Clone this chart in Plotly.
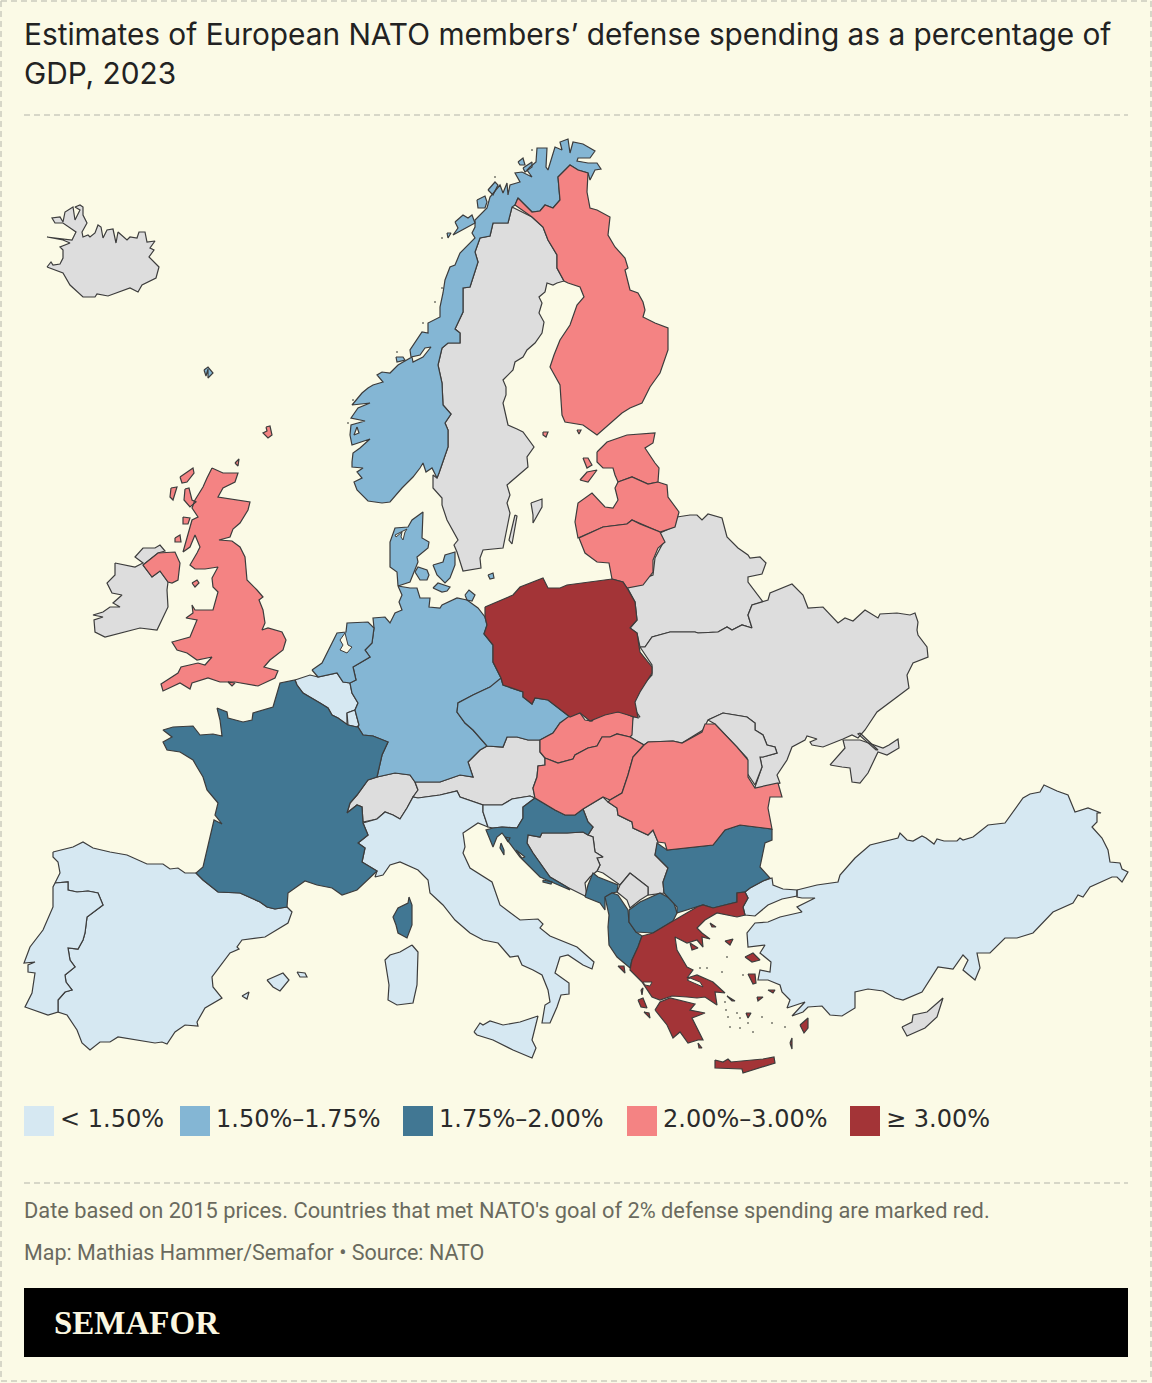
import plotly.graph_objects as go

# Outlines, in picture pixels
NORWAY = [(588,173),(590,180),(595,170),(601,169),(597,163),(588,163),(577,161),(578,158),(590,158),(595,151),(583,144),(573,142),(570,153),(568,139),(560,142),(562,150),(555,147),(548,170),(546,167),(547,148),(537,148),(536,162),(530,167),(527,170),(532,177),(522,172),(515,173),(520,182),(510,185),(508,195),(507,183),(503,193),(500,185),(490,197),(487,208),(475,220),(475,227),(472,233),(475,238),(468,245),(460,253),(455,265),(450,267),(445,280),(443,293),(440,307),(440,317),(428,323),(428,333),(422,332),(410,350),(411,357),(420,355),(425,348),(431,347),(423,357),(413,362),(412,357),(398,365),(390,373),(382,372),(377,375),(383,382),(373,385),(368,388),(362,393),(356,400),(352,405),(370,403),(358,408),(351,418),(365,421),(351,425),(350,435),(352,445),(370,439),(360,448),(353,453),(352,462),(352,467),(363,468),(357,472),(362,478),(354,482),(357,490),(368,501),(382,503),(390,502),(402,488),(413,477),(420,468),(423,463),(426,472),(432,468),(437,478),(439,473),(448,447),(448,430),(445,423),(451,414),(443,405),(442,383),(438,365),(442,348),(448,343),(460,343),(460,333),(455,329),(463,312),(463,288),(470,287),(478,262),(475,252),(480,238),(490,236),(493,223),(508,223),(512,207),(515,205),(518,198),(532,212),(540,211),(545,205),(553,208),(560,200),(558,177),(570,165),(578,170)]
NORWAY_ISLES = [
    [(477,200),(485,196),(487,202),(485,208),(478,208)],
    [(455,222),(463,215),(468,218),(472,215),(475,223),(463,230),(453,235),(458,228)],
    [(488,190),(495,182),(498,185),(493,195)],
    [(518,162),(523,158),(525,165),(520,165)],
    [(523,168),(532,162),(532,167),(525,172)],
    [(447,233),(451,233),(448,238)],
    [(396,357),(403,357),(405,360),(397,362)],
    [(357,427),(359,433),(354,435)],
]
SWEDEN = [(512,207),(532,217),(543,227),(548,240),(557,255),(557,268),(564,281),(557,283),(553,285),(547,283),(545,292),(539,297),(542,303),(539,313),(544,322),(542,333),(535,343),(527,350),(523,357),(515,362),(513,370),(503,380),(506,387),(506,395),(503,403),(508,425),(517,429),(523,432),(534,447),(527,457),(528,467),(507,485),(510,495),(507,503),(510,513),(503,548),(483,550),(480,558),(481,568),(463,571),(457,552),(454,545),(458,540),(447,520),(442,505),(442,498),(433,488),(433,475),(437,478),(439,473),(448,447),(448,430),(445,423),(451,414),(443,405),(442,383),(438,365),(442,348),(448,343),(460,343),(460,333),(455,329),(463,312),(463,288),(470,287),(478,262),(475,252),(480,238),(490,236),(493,223),(508,223)]
SWEDEN_ISLES = [
    [(531,503),(542,499),(542,507),(533,523),(533,515)],
    [(515,515),(517,516),(512,544),(509,540)],
]
FINLAND = [(518,198),(532,212),(540,211),(545,205),(553,208),(560,200),(558,177),(570,165),(578,170),(588,173),(587,192),(590,208),(597,210),(610,217),(608,235),(615,247),(625,258),(628,268),(625,270),(630,290),(638,293),(643,302),(645,310),(643,317),(655,323),(668,328),(668,350),(660,373),(650,387),(642,403),(630,408),(622,413),(597,435),(583,425),(565,422),(562,415),(560,385),(550,367),(554,355),(560,340),(570,325),(577,305),(584,297),(580,287),(568,283),(564,281),(557,268),(557,255),(548,240),(543,227),(532,217),(515,205)]
FINLAND_ISLES = [
    [(543,432),(548,432),(546,437),(543,435)],
    [(577,430),(581,430),(579,434)],
]
ICELAND = [(47,267),(51,262),(53,265),(60,264),(63,258),(63,250),(60,247),(70,243),(63,240),(47,237),(72,240),(76,232),(63,223),(55,223),(52,218),(60,217),(63,222),(65,212),(73,207),(75,220),(80,210),(75,207),(80,205),(83,207),(83,215),(87,223),(82,232),(83,237),(88,235),(90,237),(95,233),(98,225),(101,227),(103,238),(107,230),(113,229),(116,243),(118,232),(127,240),(130,237),(137,238),(139,232),(145,232),(147,242),(155,241),(150,248),(154,250),(149,257),(159,267),(156,278),(142,285),(138,292),(130,288),(108,296),(97,294),(95,297),(83,297),(70,285),(63,273)]
FAROE = [(204,370),(208,367),(213,373),(208,378),(208,369),(206,376)]
GREAT_BRITAIN = [(212,468),(223,473),(238,473),(235,482),(223,488),(218,497),(250,502),(248,510),(240,523),(233,529),(230,537),(219,540),(232,541),(240,547),(245,557),(247,580),(257,590),(263,597),(259,600),(263,610),(265,623),(262,630),(268,628),(282,632),(286,640),(283,650),(270,660),(264,667),(278,671),(275,678),(258,686),(235,682),(220,682),(208,678),(192,683),(190,689),(180,683),(163,691),(161,684),(178,673),(181,667),(198,663),(205,665),(212,657),(197,660),(187,653),(177,650),(172,642),(190,637),(197,620),(186,618),(193,613),(192,605),(195,610),(213,610),(218,592),(213,587),(212,578),(218,567),(205,569),(195,569),(190,565),(197,553),(200,547),(195,535),(190,547),(183,552),(188,535),(192,520),(198,517),(192,508),(195,500),(203,487),(207,478)]
NORTHERN_IRELAND = [(143,565),(158,553),(175,552),(180,563),(178,580),(172,583),(168,582),(160,571),(152,577)]
UK_ISLES = [
    [(180,477),(193,468),(194,473),(187,482),(182,483)],
    [(171,488),(177,487),(173,500),(170,497)],
    [(185,489),(189,488),(192,500),(196,502),(190,507),(184,500)],
    [(183,517),(190,518),(188,524),(183,524)],
    [(175,538),(180,535),(181,542),(175,542)],
    [(192,583),(197,580),(199,583),(195,587)],
    [(228,682),(235,683),(232,686)],
    [(266,427),(270,426),(272,435),(268,438),(263,433),(267,431)],
    [(235,463),(239,459),(238,466)],
]
IRELAND = [(115,563),(135,567),(143,563),(135,557),(143,548),(155,548),(160,545),(165,551),(158,553),(143,565),(152,577),(160,571),(168,582),(167,590),(168,607),(157,630),(140,628),(105,637),(95,632),(94,620),(103,617),(93,615),(103,612),(110,607),(120,607),(113,603),(122,595),(112,593),(107,583),(115,575)]
NETHERLANDS = [(312,670),(322,663),(337,633),(346,632),(347,623),(368,622),(374,628),(372,643),(365,650),(370,657),(353,667),(356,680),(350,683),(343,682),(337,673),(318,677)]
BELGIUM = [(295,680),(310,675),(318,677),(337,673),(343,682),(350,683),(352,693),(358,703),(355,710),(347,713),(347,725),(338,718),(332,715),(328,708),(320,703),(312,698),(303,693),(297,685)]
LUXEMBOURG = [(347,713),(355,710),(359,725),(357,727),(348,725)]
FRANCE = [(217,708),(227,712),(228,718),(243,722),(252,720),(253,713),(273,707),(280,683),(295,680),(297,685),(303,693),(312,698),(320,703),(328,708),(332,715),(338,718),(347,725),(348,725),(357,727),(358,727),(363,735),(373,736),(388,742),(382,755),(377,777),(368,780),(357,795),(350,803),(347,813),(357,805),(362,807),(363,823),(368,835),(358,843),(365,848),(362,862),(377,871),(357,890),(342,895),(332,888),(317,885),(305,881),(288,893),(287,907),(275,909),(267,907),(260,902),(240,893),(218,892),(203,880),(196,873),(203,867),(214,820),(222,824),(215,815),(218,803),(207,790),(203,777),(197,767),(193,760),(180,752),(167,750),(163,742),(172,737),(163,730),(173,727),(193,726),(200,735),(213,734),(222,736),(220,720)]
CORSICA = [(409,897),(412,905),(412,925),(407,938),(398,933),(396,925),(393,917),(398,908),(408,903)]
SPAIN = [(53,852),(73,847),(83,842),(93,848),(110,852),(127,855),(147,864),(163,864),(170,869),(178,868),(185,873),(196,873),(203,880),(218,892),(240,893),(260,902),(267,907),(275,909),(287,907),(292,912),(288,923),(265,937),(242,940),(237,947),(239,949),(230,953),(212,977),(213,987),(222,998),(205,1008),(197,1022),(198,1026),(185,1025),(175,1032),(167,1044),(162,1042),(155,1043),(118,1037),(110,1042),(100,1042),(90,1050),(82,1043),(77,1030),(67,1015),(58,1012),(58,1000),(65,992),(72,990),(66,982),(65,975),(75,967),(70,960),(68,948),(78,949),(83,940),(85,933),(87,917),(103,905),(98,893),(88,891),(77,892),(68,890),(68,882),(55,883),(60,873),(58,862),(53,857)]
SPAIN_ISLES = [
    [(267,980),(283,973),(289,980),(280,991),(273,987)],
    [(297,972),(305,973),(307,977),(300,977)],
    [(242,996),(249,992),(247,999)],
]
PORTUGAL = [(55,883),(68,882),(68,890),(77,892),(88,891),(98,893),(103,905),(87,917),(85,933),(83,940),(78,949),(68,948),(70,960),(75,967),(65,975),(66,982),(72,990),(65,992),(58,1000),(58,1012),(48,1015),(25,1007),(32,993),(35,973),(28,972),(28,965),(35,962),(24,963),(30,947),(43,930),(53,907),(53,887)]
GERMANY = [(398,586),(410,588),(417,588),(420,598),(430,598),(429,607),(440,608),(442,605),(457,598),(467,600),(478,608),(485,617),(487,625),(484,634),(493,645),(493,662),(501,678),(499,685),(490,687),(473,695),(458,703),(457,712),(465,723),(473,730),(487,746),(480,750),(468,762),(473,777),(460,775),(440,782),(415,782),(410,775),(395,773),(377,777),(382,755),(388,742),(373,736),(363,735),(358,727),(359,725),(355,710),(358,703),(352,693),(350,683),(356,680),(353,667),(370,657),(365,650),(372,643),(374,628),(373,618),(385,617),(390,623),(395,613),(402,610),(399,602),(402,595)]
RUGEN = [(465,595),(469,590),(475,595),(472,601),(467,600)]
DENMARK = [(398,586),(410,582),(418,562),(417,557),(428,548),(429,542),(422,538),(423,512),(412,520),(408,527),(395,528),(392,537),(390,542),(390,567),(397,572)]
DENMARK_ISLES = [
    [(415,572),(418,567),(427,570),(429,575),(427,580),(420,580)],
    [(433,565),(443,562),(445,555),(455,552),(455,565),(450,578),(445,583),(437,575)],
    [(433,588),(438,583),(450,587),(447,591),(442,592)],
    [(488,575),(493,573),(494,578),(490,579)],
]
POLAND = [(485,607),(513,595),(520,587),(543,578),(548,588),(560,588),(567,585),(612,579),(623,582),(627,588),(635,602),(637,620),(630,628),(637,633),(640,652),(652,667),(652,673),(640,692),(635,702),(638,718),(618,712),(605,715),(590,721),(580,713),(570,717),(548,700),(535,698),(532,704),(523,697),(523,692),(503,685),(501,678),(493,662),(493,645),(484,634),(487,625),(485,617)]
CZECHIA = [(501,678),(503,685),(523,692),(523,697),(532,704),(535,698),(548,700),(570,717),(560,723),(553,733),(540,740),(528,740),(517,737),(507,737),(503,747),(487,746),(473,730),(465,723),(457,712),(458,703),(473,695),(490,687)]
SLOVAKIA = [(568,717),(577,713),(580,713),(585,720),(592,721),(598,713),(613,712),(622,712),(633,717),(632,735),(630,737),(617,734),(610,737),(602,737),(597,746),(588,748),(575,755),(573,759),(558,763),(545,758),(540,752),(540,740),(553,733),(560,723)]
HUNGARY = [(545,758),(558,763),(573,759),(575,755),(588,748),(597,746),(602,737),(610,737),(617,734),(630,737),(644,745),(633,757),(628,775),(622,793),(610,800),(603,797),(583,809),(575,815),(565,815),(555,810),(535,798),(533,788),(537,777),(538,766),(545,765)]
ROMANIA = [(644,745),(648,742),(673,741),(682,743),(702,732),(705,724),(715,724),(737,747),(748,760),(748,777),(755,788),(778,783),(782,797),(770,797),(768,808),(772,829),(740,825),(725,830),(713,845),(667,850),(665,843),(658,842),(653,830),(648,835),(633,828),(632,822),(618,815),(617,808),(608,802),(610,800),(622,793),(628,775),(633,757)]
BULGARIA = [(772,829),(740,825),(725,830),(713,845),(667,850),(657,843),(655,855),(668,868),(663,882),(664,893),(677,907),(677,913),(703,905),(713,908),(737,902),(737,893),(745,892),(750,888),(763,881),(770,878),(760,867),(763,853),(765,843),(772,840)]
SERBIA = [(583,809),(603,797),(608,802),(617,808),(618,815),(632,822),(633,828),(648,835),(653,830),(658,842),(655,855),(668,868),(663,882),(664,893),(648,895),(648,887),(630,873),(620,885),(603,873),(597,871),(600,865),(597,858),(603,857),(595,852),(593,837),(588,835),(593,827),(588,822)]
KOSOVO = [(630,873),(648,887),(648,895),(640,900),(630,908),(627,900),(617,892),(620,885)]
BOSNIA = [(528,835),(540,837),(542,833),(567,833),(583,832),(588,835),(593,837),(595,852),(603,857),(597,858),(600,865),(597,871),(590,877),(585,883),(587,897),(567,887),(550,877),(533,853),(527,843)]
CROATIA = [(535,798),(555,810),(565,815),(575,815),(583,809),(588,822),(593,827),(588,835),(583,832),(567,833),(542,833),(540,837),(528,835),(527,843),(533,853),(550,877),(567,887),(570,890),(540,877),(520,857),(502,833),(497,837),(493,847),(486,830),(493,828),(502,827),(517,828),(523,818),(523,807)]
CROATIA_ISLES = [
    [(501,843),(504,850),(504,855),(500,848)],
    [(505,837),(510,838),(508,842)],
    [(516,850),(522,858),(525,857),(518,851)],
    [(543,880),(552,882),(551,884),(543,882)],
]
SLOVENIA = [(483,805),(502,805),(512,799),(530,796),(535,798),(523,807),(523,818),(517,828),(502,827),(493,828),(488,827),(483,812)]
AUSTRIA = [(415,782),(440,782),(460,775),(473,777),(468,762),(480,750),(487,746),(503,747),(507,737),(517,737),(528,740),(540,740),(540,752),(545,758),(545,765),(538,766),(537,777),(533,788),(535,798),(530,796),(512,799),(502,805),(483,805),(460,797),(457,791),(440,795),(418,798),(413,797),(418,790)]
SWITZERLAND = [(377,777),(395,773),(410,775),(415,782),(418,790),(413,797),(407,808),(400,819),(393,815),(385,812),(377,819),(363,822),(362,807),(357,805),(347,813),(350,803),(357,795),(368,780)]
ITALY = [(363,823),(377,819),(385,812),(393,815),(400,819),(407,808),(413,797),(418,798),(440,795),(457,791),(460,797),(483,805),(483,812),(488,827),(478,823),(463,833),(465,847),(463,853),(470,868),(492,882),(500,905),(520,920),(538,919),(543,924),(540,928),(550,936),(577,947),(594,962),(592,969),(583,965),(568,955),(560,957),(555,973),(569,983),(569,994),(561,995),(557,1007),(550,1023),(542,1023),(545,1005),(550,1002),(548,990),(542,975),(533,970),(522,965),(518,956),(510,957),(498,943),(483,940),(470,933),(455,920),(443,905),(430,893),(428,880),(418,870),(400,862),(390,865),(383,875),(375,877),(377,871),(362,862),(365,848),(358,843),(368,835)]
SICILY = [(474,1032),(480,1023),(483,1025),(490,1021),(503,1025),(520,1022),(538,1016),(532,1040),(536,1048),(532,1058),(513,1050),(493,1040),(477,1035)]
SARDINIA = [(412,945),(418,952),(417,985),(413,1003),(397,1005),(388,1000),(389,985),(385,960),(390,955),(400,952)]
ALBANIA = [(605,897),(612,893),(618,895),(628,910),(629,922),(636,932),(642,936),(638,947),(632,960),(630,968),(617,957),(609,945),(608,927),(609,915)]
MONTENEGRO = [(585,897),(588,885),(593,873),(598,877),(618,885),(617,892),(612,893),(605,897),(605,910),(600,903)]
NORTH_MACEDONIA = [(629,910),(640,902),(660,893),(673,900),(677,913),(673,921),(653,933),(636,932),(629,922)]
GREECE = [(642,936),(653,933),(673,921),(697,907),(703,905),(713,908),(737,902),(737,893),(745,892),(748,898),(743,907),(745,915),(737,917),(727,915),(717,913),(705,920),(697,928),(702,933),(710,939),(702,937),(703,947),(697,940),(687,943),(675,937),(677,950),(687,967),(693,970),(687,978),(697,975),(713,982),(725,993),(715,992),(717,1005),(705,997),(697,998),(687,997),(672,996),(660,1000),(652,997),(642,982),(630,970),(632,960),(638,947)]
PELOPONNESE = [(655,1010),(660,1002),(670,998),(695,1004),(690,1010),(705,1013),(692,1018),(703,1040),(698,1040),(688,1043),(680,1032),(673,1038),(667,1025)]
CRETE = [(715,1060),(723,1062),(728,1059),(731,1062),(763,1059),(774,1057),(775,1063),(743,1073),(742,1069),(715,1068)]
GREECE_ISLES = [
    [(745,957),(753,953),(760,960),(752,962)],
    [(725,941),(733,939),(730,945)],
    [(748,974),(755,974),(756,983),(753,984)],
    [(800,1025),(808,1018),(808,1028),(804,1033)],
    [(790,1043),(792,1038),(792,1049)],
    [(638,1000),(643,998),(647,1008),(641,1007)],
    [(618,966),(624,966),(625,973)],
    [(641,990),(643,988),(642,995)],
    [(644,1012),(650,1018),(649,1013)],
    [(698,1043),(702,1048),(699,1048)],
    [(710,923),(716,927),(712,927)],
    [(746,1013),(751,1013),(748,1018)],
    [(757,997),(763,997),(758,1001)],
    [(768,990),(775,990),(773,993)],
    [(727,996),(735,1001),(732,1001)],
    [(690,943),(698,948),(692,950)],
]
TURKEY_THRACE = [(745,892),(750,888),(763,881),(772,878),(773,885),(783,889),(797,890),(797,896),(782,899),(768,905),(755,916),(745,915),(743,907),(748,898)]
TURKEY_ANATOLIA = [(797,890),(817,885),(838,882),(840,875),(855,858),(870,845),(898,838),(900,833),(907,840),(913,841),(922,836),(926,838),(934,844),(937,839),(944,841),(957,841),(960,838),(963,840),(973,837),(988,825),(1005,823),(1023,798),(1030,794),(1040,792),(1044,785),(1057,791),(1068,795),(1075,812),(1088,808),(1101,813),(1097,813),(1097,822),(1092,827),(1102,838),(1108,850),(1110,862),(1120,863),(1122,869),(1128,872),(1122,882),(1117,877),(1112,877),(1090,887),(1083,897),(1078,895),(1073,903),(1053,912),(1033,933),(1017,938),(1005,938),(990,953),(983,953),(977,953),(980,968),(975,980),(963,970),(968,960),(963,955),(957,963),(953,969),(938,967),(922,992),(903,1000),(895,998),(883,991),(868,989),(855,992),(855,1008),(842,1016),(830,1015),(822,1006),(808,1007),(803,1012),(792,1016),(805,1002),(787,1008),(790,1000),(782,992),(780,985),(768,980),(758,980),(760,970),(770,972),(771,962),(760,953),(765,945),(748,947),(747,933),(755,923),(768,922),(780,917),(802,912),(797,907),(815,898),(802,898),(797,897)]
CYPRUS = [(902,1027),(912,1022),(913,1015),(927,1012),(943,998),(937,1017),(925,1028),(907,1036)]
BELARUS = [(677,517),(690,515),(697,515),(702,520),(708,514),(722,518),(727,537),(738,548),(748,555),(750,558),(760,557),(766,563),(762,574),(748,577),(748,582),(763,602),(752,605),(748,615),(752,628),(742,625),(732,630),(727,627),(718,632),(698,633),(695,632),(670,632),(652,637),(645,647),(640,647),(637,633),(630,628),(637,620),(635,602),(627,587),(640,585),(645,578),(653,575),(655,558),(663,543),(660,533),(673,527)]
UKRAINE = [(640,647),(645,647),(652,637),(670,632),(695,632),(698,633),(718,632),(727,627),(732,630),(742,625),(752,628),(748,615),(752,605),(763,602),(768,600),(770,593),(782,588),(792,584),(803,595),(808,608),(823,607),(838,623),(845,618),(853,621),(865,610),(878,618),(880,614),(897,613),(910,615),(915,613),(918,622),(917,630),(918,635),(927,647),(928,657),(913,663),(907,675),(909,688),(897,697),(877,712),(865,730),(858,738),(852,735),(843,739),(823,747),(812,745),(810,742),(817,739),(807,736),(805,740),(792,747),(787,760),(777,775),(780,783),(755,790),(755,787),(762,767),(760,757),(763,757),(777,753),(775,747),(767,745),(763,735),(755,730),(755,723),(747,717),(723,713),(708,720),(703,730),(682,743),(673,741),(648,742),(644,745),(630,737),(633,717),(640,717),(633,707),(638,690),(652,675),(652,665)]
CRIMEA = [(830,765),(845,748),(843,740),(860,740),(883,748),(889,745),(898,739),(899,748),(887,755),(878,752),(868,773),(860,783),(852,782),(850,768),(842,767)]
KERCH = [(860,733),(878,750),(876,750),(858,734)]
MOLDOVA = [(708,720),(723,713),(747,717),(755,723),(755,730),(763,735),(767,745),(775,747),(777,753),(763,757),(760,757),(762,767),(755,785),(747,773),(747,758),(735,745),(723,733),(715,724)]
ESTONIA = [(597,452),(607,442),(627,435),(655,433),(653,443),(645,448),(655,463),(659,468),(658,482),(648,484),(632,477),(618,482),(615,475),(613,468),(603,468),(597,462)]
ESTONIA_ISLES = [
    [(583,458),(588,458),(592,465),(587,468)],
    [(580,480),(587,472),(597,470),(588,482)],
]
LATVIA = [(618,482),(632,477),(648,484),(658,482),(667,485),(668,497),(679,512),(675,527),(660,532),(640,524),(632,520),(627,524),(603,527),(578,538),(575,522),(578,503),(592,493),(605,507),(613,508),(618,500),(615,488)]
LITHUANIA = [(579,538),(603,527),(627,524),(632,520),(640,524),(660,532),(665,542),(658,548),(653,560),(653,572),(643,585),(627,588),(623,582),(612,579),(609,563),(597,562),(585,553)]

# Bays drawn on top in the paper colour
BAYS = [
    [(340,640),(345,633),(348,645),(352,647),(347,653),(340,650),(343,645)],
    [(395,535),(407,529),(405,532),(403,540),(401,537),(402,532),(396,537)],
    [(687,980),(703,987),(700,982),(690,978)],
    [(643,982),(652,982),(650,986),(645,985)],
]

# Tiny islets, too small to outline
ISLET_X = [726,728,737,740,730,740,748,753,762,772,785,725,700,707,722,743,727,442,435,423,442,397,495,532,353,348]
ISLET_Y = [1010,1017,1013,1018,1027,1028,1023,1032,1017,1023,1027,1002,968,968,972,975,957,238,302,323,288,352,177,150,400,423]

# Legend
BIN_LABELS = ["< 1.50%", "1.50%–1.75%", "1.75%–2.00%", "2.00%–3.00%", "≥ 3.00%"]
BIN_COLORS = ["#D6E8F2", "#84B6D4", "#417793", "#F48383", "#A33437"]
NO_DATA_COLOR = "#DDDDDD"

# name, legend bin (None = not a NATO member, grey), outlines
COUNTRIES = [
    ("Iceland", None, [ICELAND]),
    ("Ireland", None, [IRELAND]),
    ("Sweden", None, [SWEDEN] + SWEDEN_ISLES),
    ("Switzerland", None, [SWITZERLAND]),
    ("Austria", None, [AUSTRIA]),
    ("Belarus", None, [BELARUS]),
    ("Ukraine", None, [UKRAINE, CRIMEA, KERCH]),
    ("Moldova", None, [MOLDOVA]),
    ("Serbia", None, [SERBIA]),
    ("Kosovo", None, [KOSOVO]),
    ("Bosnia and Herzegovina", None, [BOSNIA]),
    ("Cyprus", None, [CYPRUS]),
    ("Spain", 0, [SPAIN] + SPAIN_ISLES),
    ("Portugal", 0, [PORTUGAL]),
    ("Italy", 0, [ITALY, SICILY, SARDINIA]),
    ("Belgium", 0, [BELGIUM]),
    ("Luxembourg", 0, [LUXEMBOURG]),
    ("Slovenia", 0, [SLOVENIA]),
    ("Turkey", 0, [TURKEY_THRACE, TURKEY_ANATOLIA]),
    ("Norway", 1, [NORWAY] + NORWAY_ISLES),
    ("Denmark", 1, [DENMARK, FAROE] + DENMARK_ISLES),
    ("Germany", 1, [GERMANY, RUGEN]),
    ("Netherlands", 1, [NETHERLANDS]),
    ("Czechia", 1, [CZECHIA]),
    ("France", 2, [FRANCE, CORSICA]),
    ("Croatia", 2, [CROATIA] + CROATIA_ISLES),
    ("Montenegro", 2, [MONTENEGRO]),
    ("Albania", 2, [ALBANIA]),
    ("North Macedonia", 2, [NORTH_MACEDONIA]),
    ("Bulgaria", 2, [BULGARIA]),
    ("United Kingdom", 3, [GREAT_BRITAIN, NORTHERN_IRELAND] + UK_ISLES),
    ("Finland", 3, [FINLAND] + FINLAND_ISLES),
    ("Estonia", 3, [ESTONIA] + ESTONIA_ISLES),
    ("Latvia", 3, [LATVIA]),
    ("Lithuania", 3, [LITHUANIA]),
    ("Slovakia", 3, [SLOVAKIA]),
    ("Hungary", 3, [HUNGARY]),
    ("Romania", 3, [ROMANIA]),
    ("Poland", 4, [POLAND]),
    ("Greece", 4, [GREECE, PELOPONNESE, CRETE] + GREECE_ISLES),
]

TITLE = "Estimates of European NATO members’ defense spending as a percentage of<br>GDP, 2023"
NOTE = "Date based on 2015 prices. Countries that met NATO's goal of 2% defense spending are marked red."
CREDIT = "Map: Mathias Hammer/Semafor • Source: NATO"
BRAND = "SEMAFOR"

PAPER = "#FBFAE6"
DASH_COLOR = "#CBCBBF"
OUTLINE = "#3C3C3C"


def outline_xy(parts):
    xs, ys = [], []
    for part in parts:
        closed = part + [part[0]]
        xs += [p[0] for p in closed] + [None]
        ys += [p[1] for p in closed] + [None]
    return xs, ys


fig = go.Figure()

for name, bin_idx, parts in COUNTRIES:
    xs, ys = outline_xy(parts)
    fig.add_trace(go.Scatter(
        x=xs, y=ys,
        mode="lines",
        fill="toself",
        fillcolor=NO_DATA_COLOR if bin_idx is None else BIN_COLORS[bin_idx],
        line=dict(color=OUTLINE, width=1.2),
        name=name,
        hoverinfo="name",
    ))

xs, ys = outline_xy(BAYS)
fig.add_trace(go.Scatter(
    x=xs, y=ys, mode="lines", fill="toself", fillcolor=PAPER,
    line=dict(color=OUTLINE, width=1), hoverinfo="skip",
))
fig.add_trace(go.Scatter(
    x=ISLET_X, y=ISLET_Y, mode="markers",
    marker=dict(size=2, color="#77776C"), hoverinfo="skip",
))

shapes = []
# outer dashed frame and the two rules
for x0, y0, x1, y1 in [(1, 1, 1151, 1), (1, 1381, 1151, 1381), (1, 1, 1, 1381), (1151, 1, 1151, 1381),
                       (24, 115, 1128, 115), (24, 1183, 1128, 1183)]:
    shapes.append(dict(type="line", x0=x0, y0=y0, x1=x1, y1=y1, xref="x", yref="y",
                       line=dict(color=DASH_COLOR, width=1.5, dash="6px,4px")))
shapes.append(dict(type="rect", x0=24, y0=1288, x1=1128, y1=1357, xref="x", yref="y",
                   fillcolor="#000000", line=dict(width=0)))

annotations = [
    dict(text=TITLE, x=22, y=53, xanchor="left", yanchor="middle", align="left",
         font=dict(family="Inter", size=29.8, color="#222222")),
    dict(text=NOTE, x=22, y=1210, xanchor="left", yanchor="middle",
         font=dict(family="Roboto", size=21.8, color="#6A6A5E")),
    dict(text=CREDIT, x=22, y=1252, xanchor="left", yanchor="middle",
         font=dict(family="Roboto", size=21.5, color="#6A6A5E")),
    dict(text=BRAND, x=52, y=1323, xanchor="left", yanchor="middle",
         font=dict(family="Liberation Serif", size=33, color="#FBF7E0", weight=700)),
]

swatch_x = [24, 180, 403, 627, 850]
for left, label, color in zip(swatch_x, BIN_LABELS, BIN_COLORS):
    shapes.append(dict(type="rect", x0=left, y0=1106, x1=left + 30, y1=1136, xref="x", yref="y",
                       fillcolor=color, line=dict(width=0)))
    annotations.append(dict(text=label, x=left + 34, y=1119, xanchor="left", yanchor="middle",
                            font=dict(family="DejaVu Sans", size=24, color="#2B2B2B")))

for a in annotations:
    a.update(xref="x", yref="y", showarrow=False)

fig.update_layout(
    width=1152,
    height=1383,
    margin=dict(l=0, r=0, t=0, b=0),
    paper_bgcolor=PAPER,
    plot_bgcolor=PAPER,
    showlegend=False,
    shapes=shapes,
    annotations=annotations,
    xaxis=dict(range=[0, 1152], visible=False, fixedrange=True),
    yaxis=dict(range=[1383, 0], visible=False, fixedrange=True),
)

fig.write_html("out.html", config=dict(displayModeBar=False), post_script="document.body.style.margin='0';")
